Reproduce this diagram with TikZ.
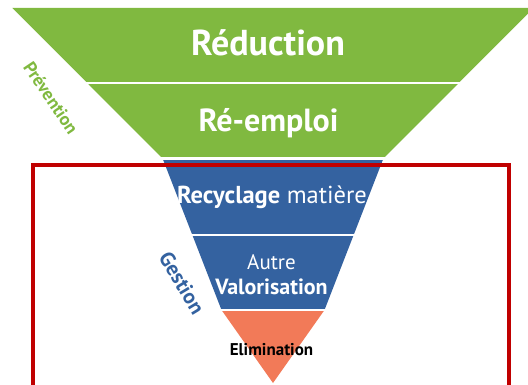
\documentclass[tikz,border=0pt]{standalone}
\usepackage{fontspec}
\setmainfont{PT Sans}
\definecolor{vgreen}{RGB}{128,185,64}
\definecolor{vblue}{RGB}{52,98,160}
\definecolor{vorange}{RGB}{242,122,88}
\definecolor{vred}{RGB}{192,0,0}
\tikzset{
  lbl/.style={inner sep=0pt, text=white, font=\bfseries},
  sep/.style={white, line width=2.6pt},
}
\begin{document}
\begin{tikzpicture}[x=1pt,y=-1pt]
\useasboundingbox[fill=white] (0,0) rectangle (528,385);
\begin{scope}
\clip (0,0) rectangle (528,385);
% hw(y) = (383-y)*0.695, centre 273
\fill[vgreen] (12.4,8) -- (533.6,8) -- (383.4,158.5) -- (162.6,158.5) -- cycle;
\fill[vblue] (162.6,158.5) -- (383.4,158.5) -- (324.5,310) -- (221.5,310) -- cycle;
\fill[vorange] (221.5,310) -- (324.5,310) -- (273,383) -- cycle;
\draw[sep] (0,83) -- (528,83);
\draw[sep] (0,158.5) -- (528,158.5);
\draw[sep] (0,235) -- (528,235);
\draw[sep] (0,310) -- (528,310);
\end{scope}
\draw[vred, line width=4pt] (32.5,400) -- (32.5,165) -- (509,165) -- (509,400);
\node[lbl, font=\fontsize{36}{40}\selectfont\bfseries] (red) at (268,43) {Réduction};
\node[lbl, font=\fontsize{32}{38}\selectfont\bfseries] (reem) at (268.5,123) {Ré-emploi};
\node[lbl, font=\fontsize{24.5}{30}\selectfont] (rec) at (272,197) {\textbf{Recyclage} matière};
\node[lbl, font=\fontsize{21}{24}\selectfont\mdseries] (aut) at (271.5,262) {Autre};
\node[lbl, font=\fontsize{22}{26}\selectfont\bfseries] (val) at (271.5,287) {Valorisation};
\node[lbl, text=black, font=\fontsize{17}{20}\selectfont\bfseries] (eli) at (271.5,350) {Elimination};
\node[lbl, text=vgreen, rotate=-56, font=\fontsize{18}{21}\selectfont\bfseries] (prev) at (51,98) {Prévention};
\node[lbl, text=vblue, rotate=-59, font=\fontsize{21}{24}\selectfont\bfseries] (ges) at (182,283) {Gestion};
\end{tikzpicture}
\end{document}
